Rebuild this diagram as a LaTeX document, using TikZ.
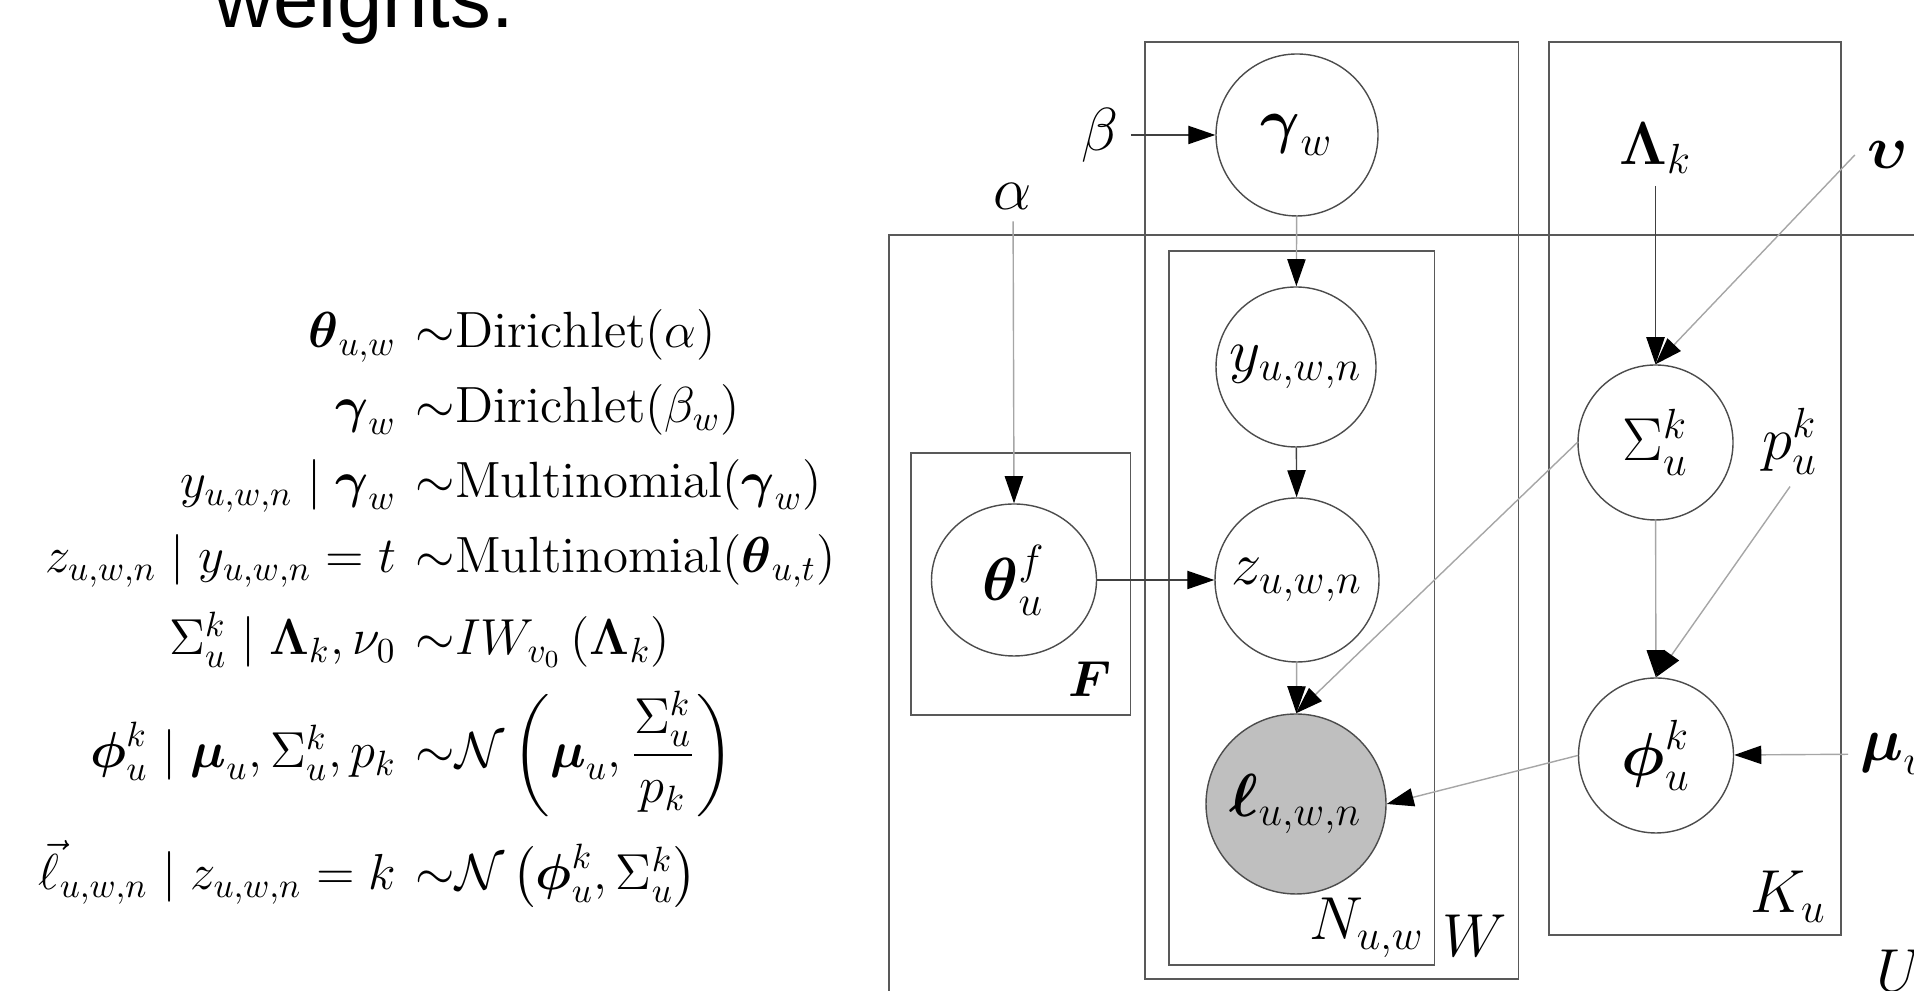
\documentclass[tikz,border=0pt]{standalone}
\usepackage{amsmath}
\usepackage{amssymb}
\usepackage{fontspec}
\newfontfamily\slidefont{Liberation Sans}
\usetikzlibrary{arrows.meta,shapes.geometric}

\begin{document}
\begin{tikzpicture}[
    var/.style={circle, draw=black!70, line width=0.4pt, inner sep=0pt, minimum size=1.62cm, font=\LARGE},
    obs/.style={var, fill=black!25},
    hyper/.style={font=\LARGE},
    plate/.style={draw=black!65, line width=0.5pt},
    platelabel/.style={anchor=base east, inner sep=0pt, font=\LARGE},
    edge/.style={draw=black!35, line width=0.4pt, -{Triangle[black, length=7.7pt, width=5.2pt]}},
    edgedark/.style={edge, draw=black!75},
    lhs/.style={anchor=base east, inner sep=0pt, font=\fontsize{14.5}{17}\selectfont},
    rhs/.style={anchor=base west, inner sep=0pt, font=\fontsize{14.5}{17}\selectfont}
]
    \def\lhsx{3.97}
    \def\rhsx{4.15}

    \useasboundingbox (0,0) rectangle (19.14,9.91);
    \clip (0,0) rectangle (19.14,9.91);

    % slide text cut at the top
    \node[anchor=base west, inner sep=0pt, font=\slidefont\fontsize{23.2}{28}\selectfont] (title) at (2.14,9.63) {weights.};

    % equations
    \node[lhs] (eqthl) at (\lhsx,6.43) {$\boldsymbol{\theta}_{u,w}$};
    \node[rhs] (eqthr) at (\rhsx,6.43) {${\sim}\mathrm{Dirichlet}(\alpha)$};
    \node[lhs] (eqgal) at (\lhsx,5.68) {$\boldsymbol{\gamma}_w$};
    \node[rhs] (eqgar) at (\rhsx,5.68) {${\sim}\mathrm{Dirichlet}(\beta_w)$};
    \node[lhs] (eqyl) at (\lhsx,4.93) {$y_{u,w,n} \mid \boldsymbol{\gamma}_w$};
    \node[rhs] (eqyr) at (\rhsx,4.93) {${\sim}\mathrm{Multinomial}(\boldsymbol{\gamma}_w)$};
    \node[lhs] (eqzl) at (\lhsx,4.18) {$z_{u,w,n} \mid y_{u,w,n} = t$};
    \node[rhs] (eqzr) at (\rhsx,4.18) {${\sim}\mathrm{Multinomial}(\boldsymbol{\theta}_{u,t})$};
    \node[lhs] (eqsl) at (\lhsx,3.36) {$\Sigma_u^k \mid \boldsymbol{\Lambda}_k, \nu_0$};
    \node[rhs] (eqsr) at (\rhsx,3.36) {${\sim}IW_{v_0}\left(\boldsymbol{\Lambda}_k\right)$};
    \node[lhs] (eqpl) at (\lhsx,2.23) {$\boldsymbol{\phi}_u^k \mid \boldsymbol{\mu}_u, \Sigma_u^k, p_k$};
    \node[rhs] (eqpr) at (\rhsx,2.23) {$\displaystyle{\sim}\mathcal{N}\left(\boldsymbol{\mu}_u, \frac{\Sigma_u^k}{p_k}\right)$};
    \node[lhs] (eqll) at (\lhsx,1.01) {$\vec{\ell}_{u,w,n} \mid z_{u,w,n} = k$};
    \node[rhs] (eqlr) at (\rhsx,1.01) {${\sim}\mathcal{N}\left(\boldsymbol{\phi}_u^k, \Sigma_u^k\right)$};

    % plates
    \draw[plate] (8.89,7.56) rectangle (19.8,-0.5);
    \draw[plate] (11.45,9.49) rectangle (15.185,0.12);
    \draw[plate] (11.69,7.40) rectangle (14.345,0.26);
    \draw[plate] (9.11,5.38) rectangle (11.305,2.76);
    \draw[plate] (15.49,9.49) rectangle (18.41,0.56);

    % plate labels
    \node[platelabel, font=\Large] (Flab) at (11.12,2.94) {$\boldsymbol{F}$};
    \node[platelabel] (Nlab) at (14.25,0.51) {$N_{u,w}$};
    \node[platelabel] (Wlab) at (15.08,0.34) {$W$};
    \node[platelabel] (Klab) at (18.27,0.78) {$K_u$};
    \node[platelabel, anchor=base west] (Ulab) at (18.76,-0.01) {$U$};

    % random variables
    \node[var] (gam) at (12.97,8.56) {$\boldsymbol{\gamma}_w$};
    \node[var, minimum size=1.6cm] (yvar) at (12.96,6.24) {$y_{u,w,n}$};
    \node[var, minimum size=1.64cm] (zvar) at (12.97,4.11) {$z_{u,w,n}$};
    \node[obs, minimum size=1.8cm] (ell) at (12.96,1.87) {$\boldsymbol{\ell}_{u,w,n}$};
    \node[var, ellipse, minimum width=1.65cm, minimum height=1.52cm] (theta) at (10.14,4.11) {$\boldsymbol{\theta}_u^f$};
    \node[var, minimum size=1.55cm] (Sig) at (16.555,5.485) {$\Sigma_u^k$};
    \node[var, minimum size=1.55cm] (phi) at (16.56,2.355) {$\boldsymbol{\phi}_u^k$};

    % hyperparameters
    \node[hyper] (alpha) at (10.13,7.95) {$\alpha$};
    \node[hyper] (beta) at (11.00,8.56) {$\beta$};
    \node[hyper] (Lam) at (16.555,8.43) {$\boldsymbol{\Lambda}_k$};
    \node[hyper] (ups) at (18.875,8.36) {$\boldsymbol{\upsilon}$};
    \node[hyper] (pk) at (17.90,5.50) {$p_u^k$};
    \node[hyper, anchor=west] (mu) at (18.48,2.37) {$\boldsymbol{\mu}_u$};

    % edges
    \draw[edgedark] (beta) -- (gam);
    \draw[edge] (alpha) -- (theta.north);
    \draw[edge] (gam) -- (yvar);
    \draw[edgedark] (yvar) -- (zvar);
    \draw[edgedark] (theta) -- (zvar);
    \draw[edge] (zvar) -- (ell);
    \draw[edge] (Sig.west) -- (ell.north);
    \draw[edge] (phi.west) -- (ell.east);
    \draw[edgedark] (Lam) -- (Sig.north);
    \draw[edge] (ups.west) -- (Sig.north);
    \draw[edge] (Sig) -- (phi);
    \draw[edge] (pk.south) -- (phi.north);
    \draw[edge] (mu) -- (phi);

\end{tikzpicture}
\end{document}
